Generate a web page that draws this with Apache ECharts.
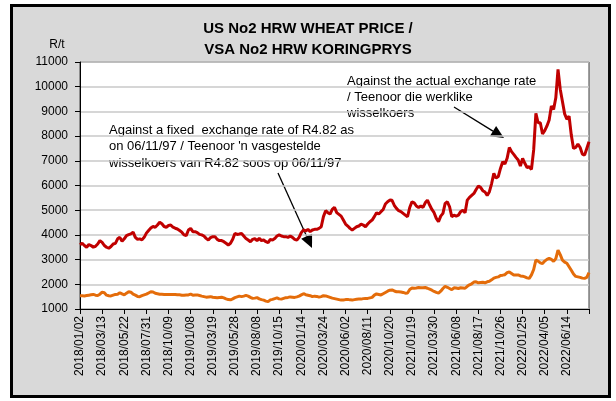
<!DOCTYPE html>
<html>
<head>
<meta charset="utf-8">
<script src="https://cdn.jsdelivr.net/npm/echarts@6/dist/echarts.min.js"></script>
<style>
html,body{margin:0;padding:0;background:#fff;}
#frame{position:absolute;left:10px;top:4px;width:595px;height:388px;border:3px solid #000;background:#d9d9d9;}
#main{position:absolute;left:0;top:0;width:616px;height:401px;}
</style>
</head>
<body>
<div id="frame"></div>
<div id="main"></div>
<script>
// labelled dates on the x axis (every 10th weekly observation)
var labelDates = ['2018/01/02','2018/03/13','2018/05/22','2018/07/31','2018/10/09','2019/01/08','2019/03/19','2019/05/28','2019/08/08','2019/10/15','2020/01/14','2020/03/24','2020/06/02','2020/08/11','2020/10/20','2021/01/19','2021/03/30','2021/06/08','2021/08/17','2021/10/26','2022/01/25','2022/04/05','2022/06/14'];

// R/t against the actual exchange rate
var actualRate = [
 3600,3660,3570,3500,3610,3570,3500,3540,3630,3770,
 3700,3570,3500,3460,3530,3630,3660,3840,3900,3740,
 3840,3970,4010,4040,4110,3900,3820,3840,3800,3900,
 4070,4180,4280,4340,4310,4400,4510,4450,4340,4310,
 4380,4400,4310,4270,4240,4180,4110,4000,3970,4200,
 4265,4130,4130,4090,4020,4000,3955,3860,3790,3890,
 3930,3930,3820,3770,3770,3725,3660,3590,3660,3820,
 4060,4020,4036,4060,3955,3850,3790,3725,3820,3850,
 3770,3860,3770,3790,3725,3685,3820,3790,3850,3955,
 4000,3955,3930,3930,3900,3955,3900,3820,3790,3900,
 4090,4200,4160,4225,4130,4200,4225,4225,4265,4330,
 4740,4980,4900,4845,5030,5115,4900,4830,4760,4600,
 4440,4360,4265,4200,4265,4330,4360,4440,4400,4330,
 4440,4535,4600,4740,4900,4845,4940,5030,5250,5340,
 5410,5400,5200,5075,4980,4940,4870,4800,4735,5110,
 5340,5300,5170,5110,5170,5110,5300,5410,5210,5030,
 4900,4670,4530,4760,4870,5275,5340,5140,4735,4800,
 4760,4800,4940,5000,4900,5410,5520,5600,5680,5840,
 5980,5925,5790,5735,5600,5750,6080,6490,6300,6360,
 6690,6960,6870,7100,7540,7370,7260,7140,7030,6790,
 7100,6900,6730,6760,6650,7440,8920,8540,8540,8085,
 8220,8410,8650,9220,9080,9550,10700,9900,9400,8900,
 8680,8810,8040,7500,7540,7680,7540,7270,7230,7500,7770
];

// R/t against a fixed exchange rate of R4.82
var fixedRate = [
 1540,1540,1530,1545,1560,1575,1590,1560,1545,1600,
 1680,1660,1560,1535,1530,1560,1590,1600,1660,1610,
 1570,1640,1700,1680,1600,1560,1510,1500,1540,1570,
 1600,1650,1700,1690,1640,1620,1600,1595,1590,1590,
 1590,1590,1590,1590,1580,1575,1560,1560,1570,1570,
 1600,1560,1565,1570,1545,1520,1500,1480,1490,1500,
 1475,1470,1460,1470,1475,1450,1410,1380,1370,1410,
 1460,1490,1520,1500,1520,1550,1520,1470,1430,1440,
 1460,1410,1380,1360,1320,1300,1370,1390,1420,1450,
 1410,1400,1430,1460,1470,1490,1480,1470,1490,1520,
 1570,1620,1580,1560,1540,1500,1520,1510,1480,1500,
 1540,1530,1500,1470,1440,1420,1400,1380,1360,1365,
 1380,1390,1370,1360,1380,1395,1400,1400,1420,1430,
 1430,1450,1470,1560,1610,1590,1570,1620,1670,1720,
 1760,1770,1730,1700,1700,1690,1670,1640,1650,1790,
 1850,1840,1850,1870,1860,1865,1870,1840,1800,1760,
 1710,1670,1640,1720,1830,1920,1880,1830,1780,1860,
 1850,1830,1860,1850,1840,1920,1980,2020,2090,2100,
 2060,2070,2080,2060,2100,2120,2180,2250,2280,2300,
 2360,2370,2390,2470,2500,2440,2380,2380,2380,2340,
 2330,2300,2260,2240,2380,2600,2980,2940,2870,2840,
 2940,3010,3050,3010,2930,3040,3380,3200,2980,2900,
 2850,2710,2570,2420,2320,2300,2280,2250,2240,2280,2470
];

function pad(n){ return n < 10 ? '0' + n : '' + n; }

// weekly dates between the labelled ones
var categories = [];
for (var k = 0; k < labelDates.length; k++) {
    var p = labelDates[k].split('/');
    var t0 = Date.UTC(+p[0], +p[1] - 1, +p[2]);
    var n = (k === labelDates.length - 1) ? 11 : 10;
    for (var j = 0; j < n; j++) {
        var d = new Date(t0 + j * 7 * 86400000);
        categories.push(d.getUTCFullYear() + '/' + pad(d.getUTCMonth() + 1) + '/' + pad(d.getUTCDate()));
    }
}

// arrow drawn as a line plus a filled head
function arrow(x1, y1, x2, y2){
    var a = Math.atan2(y2 - y1, x2 - x1);
    var len = 13, w = 6;
    var bx = x2 - len * Math.cos(a), by = y2 - len * Math.sin(a);
    var px = -Math.sin(a) * w, py = Math.cos(a) * w;
    return [
        {type:'line', shape:{x1:x1, y1:y1, x2:bx, y2:by}, style:{stroke:'#000', lineWidth:1.3}},
        {type:'polygon', shape:{points:[[x2, y2], [bx + px, by + py], [bx - px, by - py]]}, style:{fill:'#000'}}
    ];
}

var font = 'Liberation Sans, Arial, sans-serif';
var chart = echarts.init(document.getElementById('main'));
var option = {
    backgroundColor: 'transparent',
    animation: false,
    textStyle: {fontFamily: font},
    grid: {left: 80, right: 27, top: 62, bottom: 92, show: true, backgroundColor: '#fff', borderColor: '#404040', borderWidth: 1},
    xAxis: {
        type: 'category',
        data: categories,
        boundaryGap: false,
        axisLine: {lineStyle: {color: '#000', width: 1}},
        axisTick: {length: 5, lineStyle: {color: '#000'}, interval: function(i){ return i % 10 === 0; }},
        axisLabel: {
            rotate: 90, fontSize: 12, color: '#000', margin: 7, fontFamily: font,
            interval: function(i){ return i % 10 === 0 && i <= 220; }
        },
        splitLine: {show: false}
    },
    yAxis: {
        type: 'value',
        min: 1000, max: 11000, interval: 1000,
        axisLine: {show: true, lineStyle: {color: '#000', width: 1}},
        axisTick: {show: true, length: 5, lineStyle: {color: '#000'}},
        axisLabel: {fontSize: 12, color: '#000', margin: 12, fontFamily: font, formatter: function(v){ return String(v); }},
        splitLine: {lineStyle: {color: '#c8c8c8', width: 1.5}}
    },
    series: [
        {name: 'actual', type: 'line', data: actualRate, showSymbol: false, lineStyle: {color: '#c00000', width: 3}, z: 3},
        {name: 'fixed', type: 'line', data: fixedRate, showSymbol: false, lineStyle: {color: '#e46c0a', width: 3}, z: 2}
    ],
    graphic: [
        {type: 'text', left: 'center', top: 18, style: {text: 'US No2 HRW WHEAT PRICE /\nVSA No2 HRW KORINGPRYS', font: 'bold 15px ' + font, fill: '#000', textAlign: 'center', lineHeight: 21}},
        {type: 'text', x: 57, y: 45, style: {text: 'R/t', font: '12px ' + font, fill: '#000', textAlign: 'center', textVerticalAlign: 'middle'}},
        {type: 'text', x: 109, y: 122, style: {text: "Against a fixed  exchange rate of R4.82 as\non 06/11/97 / Teenoor 'n vasgestelde\nwisselkoers van R4.82 soos op 06/11/97", font: '13px ' + font, fill: '#000', lineHeight: 16.5}},
        {type: 'text', x: 347, y: 73, style: {text: 'Against the actual exchange rate\n/ Teenoor die werklike\nwisselkoers', font: '13px ' + font, fill: '#000', lineHeight: 16}}
    ].concat(arrow(278, 173, 312, 248)).concat(arrow(454, 107, 504, 138))
};
chart.setOption(option);
</script>
</body>
</html>
